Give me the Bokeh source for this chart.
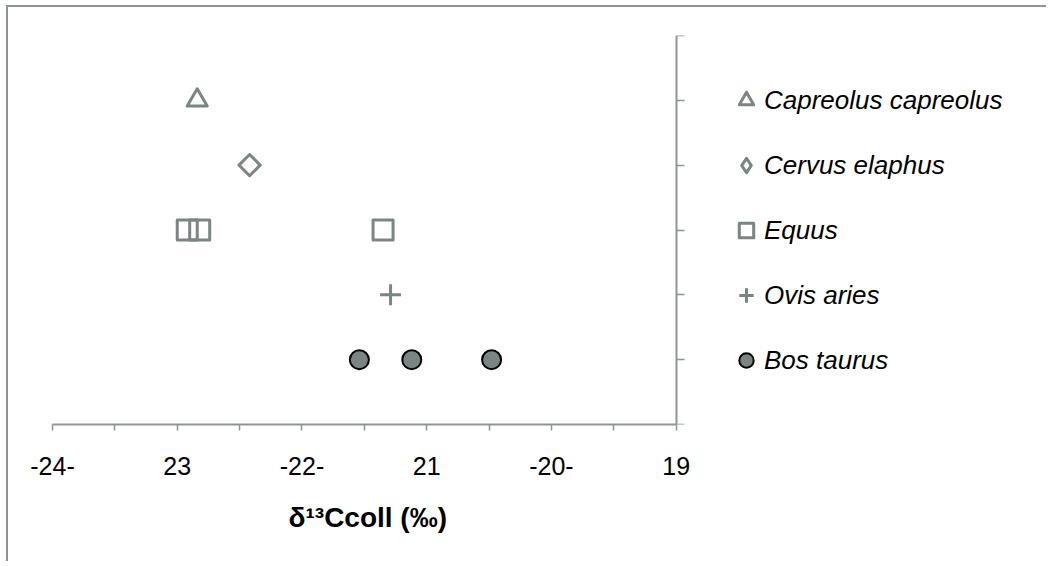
from bokeh.plotting import figure
from bokeh.models import Range1d, FixedTicker, Legend, LegendItem, LinearAxis, Title
from bokeh.embed import file_html
from bokeh.resources import INLINE
import math

# ---- data ----
species = ["Capreolus capreolus", "Cervus elaphus", "Equus", "Ovis aries", "Bos taurus"]
rows = [5, 4, 3, 2, 1]
capreolus_x = [-22.84]
cervus_x = [-22.42]
equus_x = [-22.92, -22.82, -21.35]
ovis_x = [-21.29]
bos_x = [-21.54, -21.12, -20.48]

x_ticks = [-24, -23, -22, -21, -20, -19]
x_tick_labels = ["-24-", "23", "-22-", "21", "-20-", "19"]
x_minor = [-23.5, -22.5, -21.5, -20.5, -19.5]
y_ticks = [0, 1, 2, 3, 4, 5, 6]
x_label = "δ¹³Ccoll (‰)"

GREY = "#7b8584"
AXIS = "#8d9595"
FONT = "Liberation Sans"

# frame extends right of the x axis so that the key can sit inside it
p = figure(width=1040, height=556, output_backend="svg", toolbar_location=None,
           x_range=Range1d(-24, -16.2), y_range=Range1d(y_ticks[0], y_ticks[-1]),
           y_axis_location=None,
           min_border_left=44, min_border_top=28, min_border_bottom=139, min_border_right=23)
p.outline_line_color = None
p.grid.visible = False
p.background_fill_color = "white"
p.border_fill_color = "white"
p.styles = {"border-left": "2px solid #8d9494", "border-top": "2px solid #8d9494",
            "margin-left": "6px", "margin-top": "5px"}

# x axis
xa = p.xaxis[0]
xa.ticker = FixedTicker(ticks=x_ticks, minor_ticks=x_minor)
xa.bounds = (x_ticks[0], x_ticks[-1])
xa.major_label_overrides = {t: l for t, l in zip(x_ticks, x_tick_labels)}
xa.axis_line_color = AXIS
xa.axis_line_width = 2
xa.major_tick_line_color = AXIS
xa.minor_tick_line_color = AXIS
xa.major_tick_line_width = 1.5
xa.minor_tick_line_width = 1.5
xa.major_tick_in = 0
xa.major_tick_out = 6
xa.minor_tick_in = 0
xa.minor_tick_out = 6
xa.major_label_standoff = 26
xa.major_label_text_font = FONT
xa.major_label_text_font_size = "25px"
xa.major_label_text_color = "black"

# axis title, centred under the -24 .. -19 axis
title = Title(text=x_label, align="left", offset=236, vertical_align="top", standoff=48,
              text_font=FONT, text_font_size="28px", text_font_style="bold",
              text_color="black")
p.add_layout(title, "below")

# y axis at x = -19
ya = LinearAxis(fixed_location=x_ticks[-1])
ya.ticker = FixedTicker(ticks=y_ticks, minor_ticks=[])
ya.axis_line_color = AXIS
ya.axis_line_width = 2
ya.major_tick_line_color = AXIS
ya.major_tick_line_width = 1.5
ya.major_tick_in = 0
ya.major_tick_out = 8
ya.minor_tick_line_color = None
ya.major_label_text_color = None
ya.major_label_text_font_size = "1px"
p.add_layout(ya, "right")

def ys(xs, row):
    return [row] * len(xs)

r_cap = p.scatter(capreolus_x, ys(capreolus_x, rows[0]), marker="triangle", size=20,
                  fill_color=None, line_color=GREY, line_width=3, line_join="round")
r_cer = p.scatter(cervus_x, ys(cervus_x, rows[1]), marker="square", angle=math.pi / 4, size=15,
                  fill_color=None, line_color=GREY, line_width=3, line_join="round")
# key swatch for the diamond (key swatches are drawn unrotated)
r_cer_key = p.scatter(cervus_x, ys(cervus_x, rows[1]), marker="diamond", size=15,
                      fill_color=None, line_color=GREY, line_width=3, line_join="round",
                      visible=False)
r_equ = p.scatter(equus_x, ys(equus_x, rows[2]), marker="square", size=20,
                  fill_color=None, line_color=GREY, line_width=3, line_join="round")
r_ovi = p.scatter(ovis_x, ys(ovis_x, rows[3]), marker="cross", size=21,
                  line_color=GREY, line_width=3)
r_bos = p.scatter(bos_x, ys(bos_x, rows[4]), marker="circle", size=19,
                  fill_color=GREY, line_color="black", line_width=2)

legend = Legend(items=[LegendItem(label=s, renderers=[r]) for s, r in
                       zip(species, [r_cap, r_cer_key, r_equ, r_ovi, r_bos])],
                location=(676, 43), orientation="vertical",
                glyph_width=36, glyph_height=42, label_height=42, spacing=23,
                label_standoff=0, padding=0, margin=0,
                border_line_color=None, background_fill_alpha=0,
                inactive_fill_alpha=0,
                label_text_font=FONT, label_text_font_size="26px",
                label_text_font_style="italic", label_text_color="black")
p.add_layout(legend, "center")

open("out.html", "w").write(file_html(p, INLINE))
